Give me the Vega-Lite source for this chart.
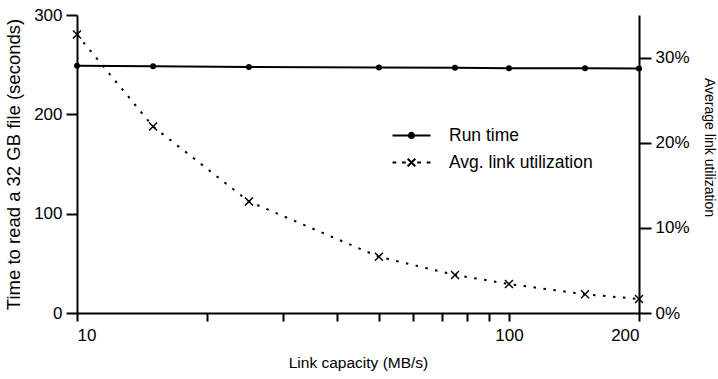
{
  "$schema": "https://vega.github.io/schema/vega-lite/v6.json",
  "width": 562,
  "height": 298,
  "autosize": "none",
  "padding": {"left": 77, "top": 15, "right": 79, "bottom": 66},
  "background": "white",
  "datasets": {
    "d": [
      {"cap": 10, "runtime": 249, "util": 0.327},
      {"cap": 15, "runtime": 248.5, "util": 0.219},
      {"cap": 25, "runtime": 247.6, "util": 0.131},
      {"cap": 50, "runtime": 247.2, "util": 0.066},
      {"cap": 75, "runtime": 246.8, "util": 0.0447},
      {"cap": 100, "runtime": 246.5, "util": 0.034},
      {"cap": 150, "runtime": 246.3, "util": 0.022},
      {"cap": 200, "runtime": 246.2, "util": 0.0165}
    ]
  },
  "data": {"name": "d"},
  "encoding": {
    "x": {
      "field": "cap",
      "type": "quantitative",
      "scale": {"type": "log", "domain": [10, 200], "nice": false},
      "axis": {
        "title": "Link capacity (MB/s)",
        "values": [10, 20, 30, 40, 50, 60, 70, 80, 90, 100, 200],
        "labelExpr": "datum.value == 10 || datum.value == 100 || datum.value == 200 ? datum.value : ''",
        "tickSize": 8,
        "labelPadding": 6,
        "titlePadding": 12,
        "titleFontSize": 15.5
      }
    }
  },
  "layer": [
    {
      "encoding": {
        "y": {
          "field": "runtime",
          "type": "quantitative",
          "scale": {"domain": [0, 300], "nice": false},
          "axis": {
            "orient": "left",
            "title": "Time to read a 32 GB file (seconds)",
            "values": [0, 100, 200, 300],
            "tickSize": 11,
            "labelPadding": 4,
            "titlePadding": 10,
            "titleFontSize": 18.5
          }
        }
      },
      "layer": [
        {
          "mark": {"type": "line", "color": "black", "strokeWidth": 2},
          "encoding": {
            "color": {
              "datum": "Run time",
              "type": "nominal",
              "scale": {"domain": ["Run time", "Avg. link utilization"], "range": ["black", "black"]},
              "legend": {
                "orient": "none",
                "legendX": 324,
                "legendY": 110,
                "title": null,
                "padding": 0,
                "symbolSize": 361,
                "symbolStrokeWidth": 2,
                "symbolStrokeColor": "black",
                "symbolFillColor": "black",
                "labelFont": "Liberation Sans",
                "labelFontSize": 17.5,
                "labelColor": "black",
                "labelOffset": 27,
                "rowPadding": 8,
                "encode": {
                  "symbols": {
                    "update": {
                      "shape": {"signal": "datum.value === 'Run time' ? 'M-2,0H2M0.28,0A0.28,0.28,0,1,1,-0.28,0A0.28,0.28,0,1,1,0.28,0Z' : 'M-2,0H-1.6M-1,0H-0.6M0.6,0H1M1.6,0H2M-0.4,-0.4L0.4,0.4M0.4,-0.4L-0.4,0.4'"},
                      "fill": {"value": "black"},
                      "stroke": {"value": "black"},
                      "strokeWidth": {"value": 2},
                      "strokeDash": {"value": []}
                    }
                  }
                }
              }
            }
          }
        },
        {
          "mark": {"type": "point", "shape": "circle", "filled": true, "color": "black", "size": 36, "opacity": 1}
        }
      ]
    },
    {
      "encoding": {
        "y": {
          "field": "util",
          "type": "quantitative",
          "scale": {"domain": [0, 0.35], "nice": false},
          "axis": {
            "orient": "right",
            "title": "Average link utilization",
            "values": [0, 0.1, 0.2, 0.3],
            "format": ".0%",
            "tickSize": 12,
            "labelPadding": 4,
            "titlePadding": 12,
            "titleFontSize": 14,
            "titleY": 132
          }
        }
      },
      "layer": [
        {
          "mark": {"type": "line", "color": "black", "strokeWidth": 2, "strokeDash": [2.5, 7.5]},
          "encoding": {
            "color": {"datum": "Avg. link utilization", "type": "nominal"}
          }
        },
        {
          "mark": {"type": "point", "shape": "M-1,-1L1,1M1,-1L-1,1", "filled": false, "color": "black", "strokeWidth": 1.5, "size": 64, "opacity": 1}
        }
      ]
    }
  ],
  "resolve": {"scale": {"y": "independent"}},
  "config": {
    "view": {"stroke": null},
    "axis": {
      "grid": false,
      "domainColor": "black",
      "domainWidth": 2,
      "tickColor": "black",
      "tickWidth": 2,
      "labelFont": "Liberation Sans",
      "labelFontSize": 17,
      "labelColor": "black",
      "titleFont": "Liberation Sans",
      "titleFontSize": 15,
      "titleFontWeight": "normal",
      "titleColor": "black"
    }
  }
}
